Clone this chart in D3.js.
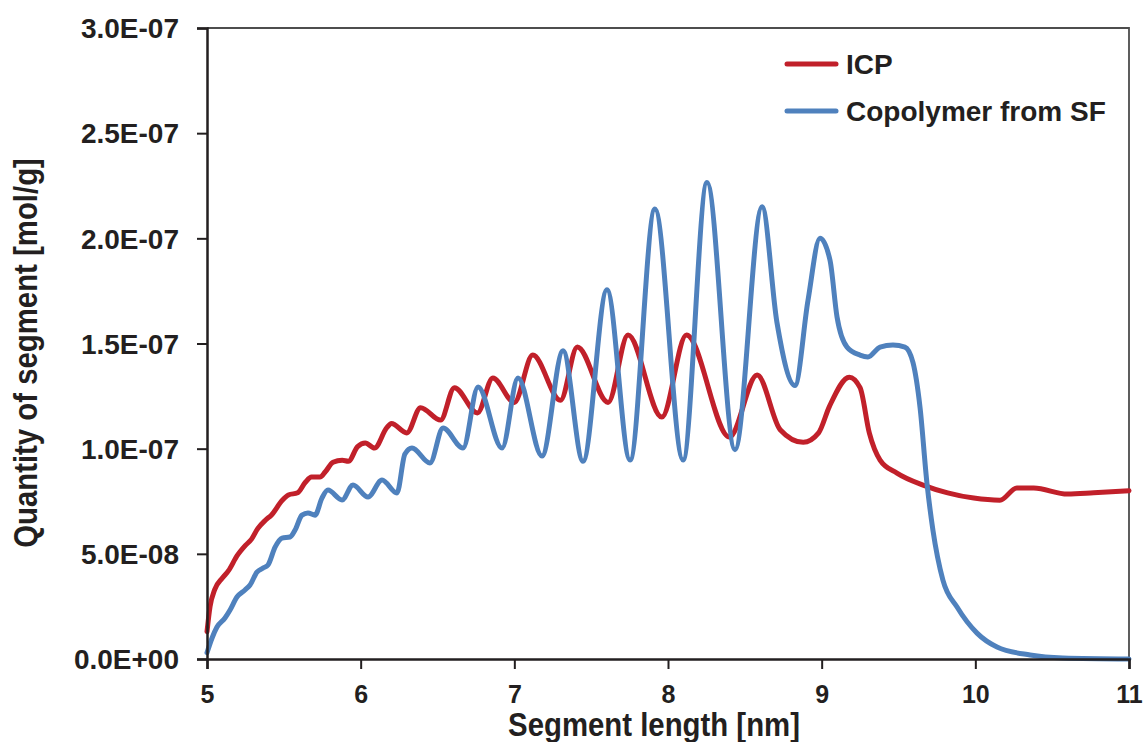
<!DOCTYPE html>
<html>
<head>
<meta charset="utf-8">
<script src="https://cdn.jsdelivr.net/npm/d3@7"></script>
<style>
  html, body { margin: 0; padding: 0; background: #fff; }
  svg { display: block; }
</style>
</head>
<body>
<div id="chart"></div>
<script>
// segment length [nm] and quantity of segment, in units of 1E-07 mol/g
const icpX = [5.00, 5.02, 5.05, 5.10, 5.14, 5.195, 5.25, 5.29, 5.33, 5.38, 5.42, 5.49, 5.53, 5.59, 5.64,
  5.68, 5.735, 5.77, 5.82, 5.88, 5.92, 5.98, 6.03, 6.09, 6.17, 6.20, 6.30, 6.39, 6.52, 6.61, 6.76,
  6.86, 7.00, 7.12, 7.30, 7.41, 7.61, 7.74, 7.96, 8.12, 8.40, 8.58, 8.73, 8.88, 8.98, 9.05, 9.18,
  9.25, 9.31, 9.38, 9.49, 9.66, 9.82, 9.99, 10.16, 10.27, 10.38, 10.60, 10.77, 11.00];
const icpY = [0.13, 0.25, 0.33, 0.385, 0.42, 0.49, 0.54, 0.57, 0.62, 0.66, 0.685, 0.755, 0.78, 0.79, 0.84,
  0.865, 0.865, 0.89, 0.935, 0.945, 0.94, 1.01, 1.027, 1.003, 1.10, 1.12, 1.075, 1.195, 1.136, 1.29, 1.17,
  1.336, 1.22, 1.445, 1.23, 1.483, 1.22, 1.54, 1.15, 1.54, 1.055, 1.35, 1.09, 1.03, 1.075, 1.20, 1.34,
  1.29, 1.075, 0.946, 0.884, 0.827, 0.79, 0.765, 0.755, 0.813, 0.813, 0.784, 0.79, 0.80];

const sfX = [5.00, 5.033, 5.065, 5.117, 5.15, 5.195, 5.247, 5.28, 5.325, 5.364, 5.397, 5.443, 5.488, 5.54,
  5.573, 5.618, 5.657, 5.703, 5.748, 5.787, 5.879, 5.95, 6.048, 6.139, 6.236, 6.288, 6.334, 6.451,
  6.536, 6.666, 6.764, 6.92, 7.024, 7.18, 7.317, 7.447, 7.603, 7.753, 7.915, 8.098, 8.254, 8.436,
  8.612, 8.709, 8.826, 8.911, 8.989, 9.054, 9.10, 9.165, 9.249, 9.301, 9.38, 9.464, 9.542, 9.594,
  9.64, 9.685, 9.724, 9.789, 9.881, 10.011, 10.141, 10.356, 10.57, 11.00];
const sfY = [0.03, 0.10, 0.152, 0.195, 0.233, 0.295, 0.328, 0.352, 0.413, 0.432, 0.447, 0.532, 0.575, 0.58,
  0.613, 0.684, 0.694, 0.684, 0.765, 0.803, 0.756, 0.827, 0.77, 0.851, 0.789, 0.975, 1.003, 0.932,
  1.098, 1.003, 1.293, 1.003, 1.336, 0.965, 1.465, 0.94, 1.755, 0.946, 2.14, 0.946, 2.265, 0.995,
  2.15, 1.60, 1.30, 1.705, 2.00, 1.897, 1.626, 1.483, 1.445, 1.436, 1.483, 1.493, 1.483, 1.41,
  1.197, 0.837, 0.613, 0.375, 0.247, 0.123, 0.057, 0.019, 0.005, 0.0];

const xTicks = [5, 6, 7, 8, 9, 10, 11];
const yTicks = [0, 0.5, 1.0, 1.5, 2.0, 2.5, 3.0];
const yTickLabels = ['0.0E+00', '5.0E-08', '1.0E-07', '1.5E-07', '2.0E-07', '2.5E-07', '3.0E-07'];

const seriesNames = ['ICP', 'Copolymer from SF'];
const seriesColors = ['#c1202a', '#4f81bd'];

const W = 1146, H = 742;
const margin = {top: 28, right: 17, bottom: 83, left: 207};
const width = W - margin.left - margin.right;
const height = H - margin.top - margin.bottom;
const font = '"Liberation Sans", Arial, sans-serif';
const ink = '#231f20';

const svg = d3.select('#chart').append('svg')
    .attr('width', W)
    .attr('height', H);
const g = svg.append('g').attr('transform', 'translate(' + margin.left + ',' + margin.top + ')');

const x = d3.scaleLinear().domain([5, 11]).range([0, width]);
const y = d3.scaleLinear().domain([0, 3]).range([height, 0]);

// frame (top + right)
g.append('path')
    .attr('d', 'M0,0H' + width + 'V' + height)
    .attr('fill', 'none')
    .attr('stroke', '#4d4d4d')
    .attr('stroke-width', 1.8);

const line = d3.line()
    .x(d => x(d[0]))
    .y(d => y(d[1]))
    .curve(d3.curveMonotoneX);

const series = [d3.zip(icpX, icpY), d3.zip(sfX, sfY)];

g.selectAll('.series')
    .data(series)
    .enter().append('path')
    .attr('class', 'series')
    .attr('fill', 'none')
    .attr('stroke', (d, i) => seriesColors[i])
    .attr('stroke-width', 5)
    .attr('stroke-linejoin', 'round')
    .attr('stroke-linecap', 'round')
    .attr('d', line);

// axes
const xAxis = g.append('g')
    .attr('transform', 'translate(0,' + height + ')')
    .call(d3.axisBottom(x).tickValues(xTicks).tickSize(10).tickFormat(d3.format('d')));
const yAxis = g.append('g')
    .call(d3.axisLeft(y).tickValues(yTicks).tickSize(10).tickPadding(18)
        .tickFormat((d, i) => yTickLabels[i]));

[xAxis, yAxis].forEach(a => {
    a.select('.domain').attr('stroke', ink).attr('stroke-width', 2.5);
    a.selectAll('.tick line').attr('stroke', ink).attr('stroke-width', 2);
});

xAxis.selectAll('.tick text')
    .attr('fill', ink)
    .attr('dy', null)
    .attr('y', 44)
    .style('font-family', font)
    .style('font-weight', 'bold')
    .style('font-size', '25px');

yAxis.selectAll('.tick text')
    .attr('fill', ink)
    .attr('dy', '0.35em')
    .style('font-family', font)
    .style('font-weight', 'bold')
    .style('font-size', '28px');

// axis titles (condensed bold)
svg.append('text')
    .attr('transform', 'translate(654,736) scale(0.89,1)')
    .attr('text-anchor', 'middle')
    .attr('fill', ink)
    .style('font-family', font)
    .style('font-weight', 'bold')
    .style('font-size', '33px')
    .text('Segment length [nm]');

svg.append('text')
    .attr('transform', 'translate(37,353) rotate(-90) scale(0.89,1)')
    .attr('text-anchor', 'middle')
    .attr('fill', ink)
    .style('font-family', font)
    .style('font-weight', 'bold')
    .style('font-size', '33px')
    .text('Quantity of segment [mol/g]');

// legend
const legend = svg.append('g').attr('transform', 'translate(787,64)');
const item = legend.selectAll('.item')
    .data(seriesNames)
    .enter().append('g')
    .attr('transform', (d, i) => 'translate(0,' + (i * 47) + ')');
item.append('line')
    .attr('x1', 0).attr('x2', 49)
    .attr('stroke', (d, i) => seriesColors[i])
    .attr('stroke-width', 5)
    .attr('stroke-linecap', 'round');
item.append('text')
    .attr('x', 59)
    .attr('y', 10)
    .attr('fill', ink)
    .style('font-family', font)
    .style('font-weight', 'bold')
    .style('font-size', '28px')
    .text(d => d);
</script>
</body>
</html>
